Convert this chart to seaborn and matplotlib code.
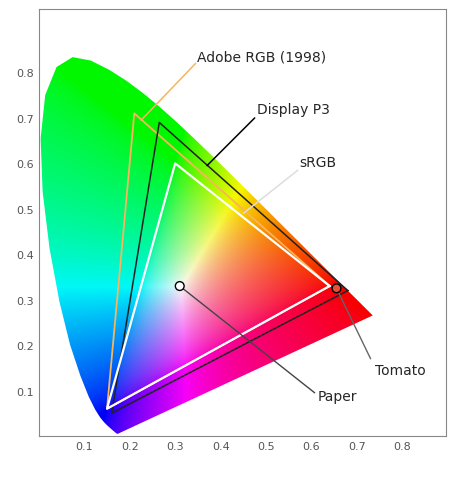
import numpy as np
import pandas as pd
import matplotlib
matplotlib.use("Agg")
import matplotlib.pyplot as plt
import seaborn as sns
from matplotlib.patches import Polygon

locus_x = [0.1741,0.1733,0.1714,0.1644,0.1566,0.1510,0.1440,0.1355,0.1241,0.1096,0.0913,0.0687,0.0454,0.0235,0.0082,0.0039,0.0139,0.0389,0.0743,0.1142,0.1547,0.1929,0.2296,0.2658,0.3016,0.3373,0.3731,0.4087,0.4441,0.4788,0.5125,0.5448,0.5752,0.6029,0.6270,0.6482,0.6658,0.6801,0.6915,0.7006,0.7079,0.7140,0.7190,0.7300,0.7347]
locus_y = [0.0050,0.0048,0.0051,0.0109,0.0177,0.0227,0.0297,0.0399,0.0578,0.0868,0.1327,0.2007,0.2950,0.4127,0.5384,0.6548,0.7502,0.8120,0.8338,0.8262,0.8059,0.7816,0.7543,0.7243,0.6923,0.6589,0.6245,0.5896,0.5547,0.5202,0.4866,0.4544,0.4242,0.3965,0.3725,0.3514,0.3340,0.3197,0.3083,0.2993,0.2920,0.2859,0.2809,0.2700,0.2653]

srgb_x = [0.64, 0.30, 0.15]; srgb_y = [0.33, 0.60, 0.06]
adobe_x = [0.64, 0.21, 0.15]; adobe_y = [0.33, 0.71, 0.06]
p3_x = [0.68, 0.265, 0.16]; p3_y = [0.32, 0.69, 0.05]

point_names = ["Paper", "Tomato"]
point_x = [0.31, 0.655]
point_y = [0.33, 0.325]

sns.set_style("white")
fig = plt.figure(figsize=(4.74, 4.81), dpi=100)
ax = fig.add_axes([0.082, 0.0915, 0.858, 0.888])
XMAX, YMAX = 0.895, 0.94
ax.set_xlim(0, XMAX); ax.set_ylim(0, YMAX)

n = 400
gx, gy = np.meshgrid(np.linspace(0, XMAX, n), np.linspace(0.001, YMAX, n))
X = gx / gy; Y = np.ones_like(gx); Z = (1 - gx - gy) / gy
M = np.array([[3.2406, -1.5372, -0.4986], [-0.9689, 1.8758, 0.0415], [0.0557, -0.2040, 1.0570]])
rgb = np.stack([M[i, 0]*X + M[i, 1]*Y + M[i, 2]*Z for i in range(3)], axis=-1)
rgb = np.clip(rgb, 0, None)
rgb = rgb / np.maximum(rgb.max(axis=-1, keepdims=True), 1e-9)
rgb = np.power(rgb, 1/1.6) * 0.97
rgb = np.clip(rgb, 0, 1)
im = ax.imshow(rgb, origin="lower", extent=[0, XMAX, 0.001, YMAX], aspect="auto", interpolation="bilinear")
poly = Polygon(np.column_stack([locus_x, locus_y]), closed=True, facecolor="none", edgecolor="none")
ax.add_patch(poly)
im.set_clip_path(poly)

def tri(xs, ys, c, lw):
    ax.plot(xs + xs[:1], ys + ys[:1], color=c, lw=lw)

tri(adobe_x, adobe_y, "#f7b55c", 1.3)
tri(p3_x, p3_y, "#222222", 1.1)
tri(srgb_x, srgb_y, "white", 1.6)

ax.plot([0.345, 0.225], [0.82, 0.695], color="#f7b55c", lw=1.1)
ax.text(0.347, 0.835, "Adobe RGB (1998)", fontsize=10, va="center")
ax.plot([0.475, 0.37], [0.70, 0.595], color="black", lw=1.1)
ax.text(0.48, 0.72, "Display P3", fontsize=10, va="center")
ax.plot([0.57, 0.45], [0.585, 0.49], color="#dddddd", lw=1.1)
ax.text(0.573, 0.603, "sRGB", fontsize=10, va="center")
ax.plot([0.31, 0.607], [0.33, 0.095], color="#444444", lw=1.0)
ax.text(0.613, 0.089, "Paper", fontsize=10, va="center")
ax.plot([0.655, 0.73], [0.325, 0.17], color="#666666", lw=1.0)
ax.text(0.739, 0.146, "Tomato", fontsize=10, va="center")

df = pd.DataFrame({"x": point_x, "y": point_y, "name": point_names})
sns.scatterplot(data=df, x="x", y="y", hue="name", palette={"Paper": "white", "Tomato": "#e8503a"},
                edgecolor="black", linewidth=1.0, s=40, legend=False, ax=ax, zorder=5)

ax.set_xlabel(""); ax.set_ylabel("")
ax.set_xticks([0.1, 0.2, 0.3, 0.4, 0.5, 0.6, 0.7, 0.8])
ax.set_yticks([0.1, 0.2, 0.3, 0.4, 0.5, 0.6, 0.7, 0.8])
ax.tick_params(labelsize=8, colors="#555555", length=0)
for s in ax.spines.values():
    s.set_color("#888888"); s.set_linewidth(0.8)
fig.savefig("out.png", dpi=100)
